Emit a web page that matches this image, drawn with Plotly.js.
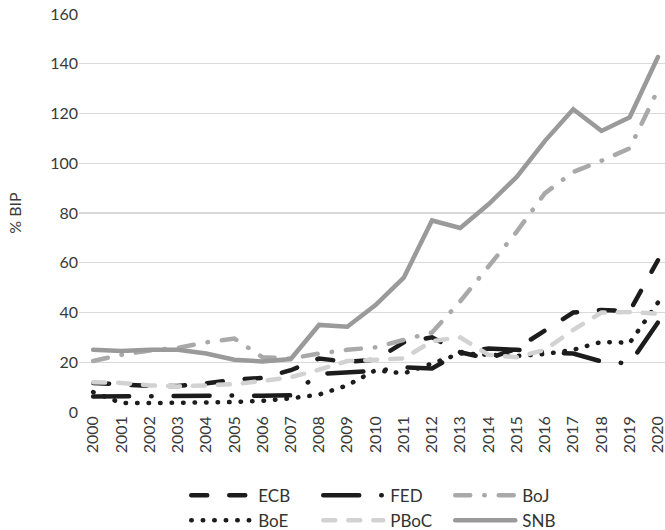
<!DOCTYPE html>
<html>
<head>
<meta charset="utf-8">
<script src="https://cdn.plot.ly/plotly-3.0.1.min.js"></script>
<style>html,body{margin:0;padding:0;background:#fff;}#chart{width:665px;height:530px;}</style>
</head>
<body>
<div id="chart"></div>
<script>
const years = ['2000','2001','2002','2003','2004','2005','2006','2007','2008','2009','2010','2011','2012','2013','2014','2015','2016','2017','2018','2019','2020'];
const ecb  = [11.7, 11, 10.5, 10.5, 11.5, 13, 13.7, 16.8, 21.5, 20.2, 21, 28, 30, 24, 21.5, 25.5, 33, 40, 41, 40.5, 61];
const fed  = [6.2, 6.3, 6.5, 6.7, 6.7, 6.6, 6.5, 6.7, 15.3, 16, 16.5, 18, 17.5, 24, 25.5, 25, 24, 23.5, 20.3, 19.5, 36];
const boj  = [20.5, 23, 24.7, 25.8, 28, 29.5, 22, 21.5, 23.5, 25, 26, 29, 32, 44.5, 58.5, 72.5, 88, 96.5, 101, 106, 129.5];
const boe  = [8, 3.6, 3.6, 3.6, 3.7, 4, 4.5, 5.5, 7, 10.7, 16.8, 15.5, 19.5, 23.5, 23, 22.5, 23.3, 25, 28.2, 27.8, 44];
const pboc = [12, 11.7, 10.7, 10.3, 10.7, 11.2, 12.5, 14, 17, 20.5, 21, 21.5, 28.5, 30, 23, 22, 25, 33, 40, 40.2, 39.5];
const snb  = [25, 24.5, 25, 25, 23.5, 21, 20.3, 21.3, 35, 34.3, 43, 54, 77, 74, 83.5, 94.5, 109, 121.7, 113, 118.5, 142.7];

const FONT = 'Lato, "Open Sans", sans-serif';
function tr(name, y, color, width, dash, legend) {
  return {x: years, y: y, name: name, type: 'scatter', mode: 'lines',
    line: {color: color, width: width, dash: dash}, legend: legend, hoverinfo: 'skip'};
}
const data = [
  tr('ECB', ecb, '#1c1c1c', 4.5, '16px,22px', 'legend'),
  tr('FED', fed, '#1c1c1c', 4.5, '36px,22px,0.5px,22px', 'legend'),
  tr('BoJ', boj, '#a9a9a9', 4.5, '15px,14px,0.5px,14px', 'legend'),
  tr('BoE', boe, '#1c1c1c', 4.5, '0.5px,11px', 'legend2'),
  tr('PBoC', pboc, '#d2d2d2', 4.5, '12px,13px', 'legend2'),
  tr('SNB', snb, '#9a9a9a', 4.5, 'solid', 'legend2')
];
const legendBase = {orientation: 'h', xanchor: 'left', yanchor: 'middle', x: 0.183,
  entrywidth: 55, entrywidthmode: 'pixels', itemwidth: 62, traceorder: 'normal',
  font: {family: FONT, size: 17, color: '#333333'}, bgcolor: 'rgba(0,0,0,0)', borderwidth: 0};
const layout = {
  width: 665, height: 530,
  margin: {l: 79, r: 0, t: 14, b: 118.3, autoexpand: false},
  paper_bgcolor: '#ffffff', plot_bgcolor: '#ffffff',
  font: {family: FONT, size: 16, color: '#3a3a3a'},
  showlegend: true,
  xaxis: {type: 'category', range: [-0.5, 20.25], tickangle: -90, showgrid: false,
    zeroline: false, showline: false, ticks: '', automargin: false,
    tickfont: {family: FONT, size: 16, color: '#3a3a3a'}},
  yaxis: {range: [0, 160], dtick: 20, showgrid: true, gridcolor: '#d9d9d9', gridwidth: 1.3,
    zeroline: false, showline: false, ticks: '', automargin: false,
    tickfont: {family: FONT, size: 16, color: '#3a3a3a'},
    title: {text: '% BIP', font: {family: FONT, size: 16, color: '#3a3a3a'}, standoff: 24}},
  legend: Object.assign({}, legendBase, {y: -0.21}),
  legend2: Object.assign({}, legendBase, {y: -0.273})
};
Plotly.newPlot('chart', data, layout, {displayModeBar: false, staticPlot: true}).then(function(gd) {
  gd.querySelectorAll('.scatterlayer path.js-line').forEach(function(p){ p.style.strokeLinecap = 'round'; });
  gd.querySelectorAll('[class^="legend"] path.js-line').forEach(function(p){
    p.style.strokeLinecap = 'round';
    p.setAttribute('d', 'M5,0h60');
  });
});
</script>
</body>
</html>
